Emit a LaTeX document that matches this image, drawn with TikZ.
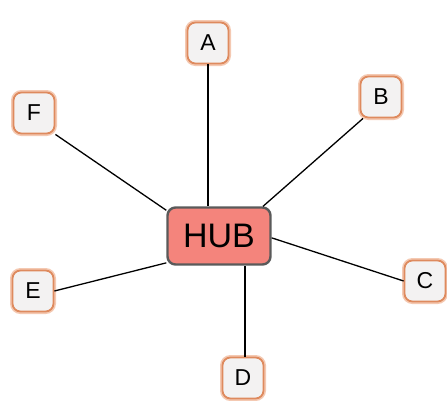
\documentclass[tikz,border=0pt]{standalone}
\usepackage{fontspec}
\setmainfont{Liberation Sans}
\definecolor{hubfill}{HTML}{F4847C}
\definecolor{hubdraw}{HTML}{5A5A5A}
\definecolor{satfill}{HTML}{F3F2F2}
\definecolor{satdraw}{HTML}{DE8A5E}
\definecolor{satglow}{HTML}{F4C9B2}
\begin{document}
\begin{tikzpicture}[x=1pt,y=-1pt,
  hubbox/.style={draw=hubdraw,fill=hubfill,line width=2.4pt,rounded corners=8pt,
    minimum width=103pt,minimum height=57pt,inner sep=0pt,font=\fontsize{34}{34}\selectfont},
  satbox/.style={draw=satdraw,fill=satfill,line width=1.8pt,rounded corners=8pt,
    minimum width=41pt,minimum height=41pt,inner sep=0pt,font=\fontsize{23}{23}\selectfont,
    preaction={draw=satglow,line width=5pt}},
  link/.style={draw=black,line width=1.3pt}]
\useasboundingbox (0,0) rectangle (447,400);
\node[hubbox] (hub) at (219,236) {HUB};
\node[satbox] (A) at (208,43) {A};
\node[satbox] (B) at (381,97) {B};
\node[satbox] (C) at (425,281) {C};
\node[satbox] (D) at (243,378) {D};
\node[satbox] (E) at (33,291) {E};
\node[satbox] (F) at (34,113) {F};
\draw[link] (A.south) -- (A.south |- hub.north);
\draw[link] (B.230) -- (hub.34);
\draw[link] (C.180) -- (hub.-2);
\draw[link] ([xshift=2pt]D.north) -- ([xshift=2pt]D.north |- hub.south);
\draw[link] (E.0) -- (hub.207);
\draw[link] (F.-45) -- (hub.154);
\end{tikzpicture}
\end{document}
